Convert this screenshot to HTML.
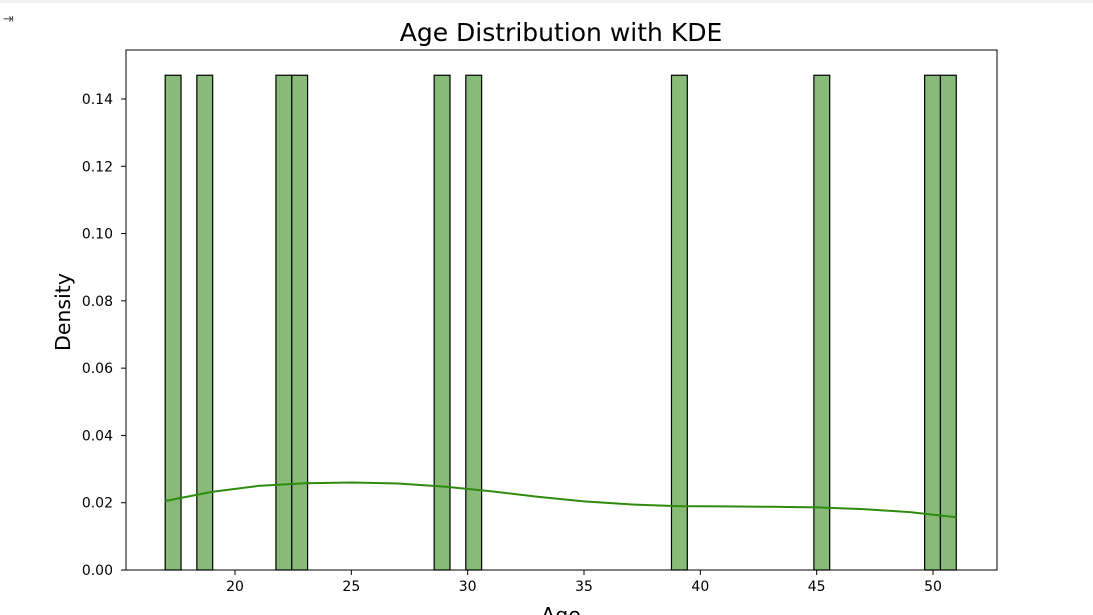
<!DOCTYPE html>
<html><head><meta charset="utf-8"><style>
body{margin:0;background:#fff;width:1093px;height:615px;overflow:hidden;font-family:"DejaVu Sans","Liberation Sans",sans-serif}
</style></head><body>
<div style="position:absolute;left:0;top:0;width:1093px;height:3px;background:#f1f1f1"></div>
<div style="position:absolute;left:3px;top:12px;font-size:13px;color:#555">⇥</div>
<svg id="chart" width="1093" height="615" style="position:absolute;left:0;top:0;font-family:'DejaVu Sans','Liberation Sans',sans-serif">
<text x="561" y="41" text-anchor="middle" font-size="25" fill="#000">Age Distribution with KDE</text>
<text transform="translate(70,312) rotate(-90)" text-anchor="middle" font-size="20.5">Density</text>
<text x="561" y="622" text-anchor="middle" font-size="20.5">Age</text>
</svg>
<script>
const ages=[17,19,22,23,29,30,39,45,50,51];
const binCount=50;
const kdeX=[17,19,21,23,25,27,29,31,33,35,37,39,41,43,45,47,49,51];
const kdeY=[0.0205,0.0232,0.0250,0.0258,0.0260,0.0257,0.0248,0.0234,0.0218,0.0204,0.0195,0.0190,0.0189,0.0188,0.0186,0.0181,0.0172,0.0157];
const xTicks=[20,25,30,35,40,45,50];
const yTicks=[0,0.02,0.04,0.06,0.08,0.1,0.12,0.14];
const svg=document.getElementById('chart');const NS='http://www.w3.org/2000/svg';
const L=126,R=997,T=50,B=570;
const sx=v=>235+(v-20)*(933-235)/30;
const sy=v=>570-v*(570-99)/0.14;
function mk(t,a){const e=document.createElementNS(NS,t);for(const k in a)e.setAttribute(k,a[k]);svg.appendChild(e);return e;}
const mn=Math.min(...ages),mx=Math.max(...ages),bw=(mx-mn)/binCount;
const counts=new Array(binCount).fill(0);
ages.forEach(a=>{let i=Math.floor((a-mn)/bw);if(i>=binCount)i=binCount-1;counts[i]++;});
counts.forEach((c,i)=>{if(!c)return;const d=c/(ages.length*bw);
const r=mk('rect',{x:sx(mn+i*bw),y:sy(d),width:sx(mn+(i+1)*bw)-sx(mn+i*bw),height:sy(0)-sy(d),fill:'#88bb77',stroke:'#000','stroke-width':1.2});

});
let dstr=kdeX.map((x,i)=>(i?'L':'M')+sx(x).toFixed(1)+','+sy(kdeY[i]).toFixed(1)).join(' ');
const p=mk('path',{d:dstr,fill:'none',stroke:'#2e8b0e','stroke-width':2});


const fr=mk('rect',{x:L,y:T,width:R-L,height:B-T,fill:'none',stroke:'#000','stroke-width':1});


xTicks.forEach(v=>{mk('line',{x1:sx(v),x2:sx(v),y1:B,y2:B+5,stroke:'#000'});
const t=mk('text',{x:sx(v),y:B+21,'text-anchor':'middle','font-size':14});t.textContent=v;

});
yTicks.forEach(v=>{mk('line',{x1:L-5,x2:L,y1:sy(v),y2:sy(v),stroke:'#000'});
const t=mk('text',{x:L-13,y:sy(v)+5,'text-anchor':'end','font-size':14});t.textContent=v.toFixed(2);

});
</script>
</body></html>
